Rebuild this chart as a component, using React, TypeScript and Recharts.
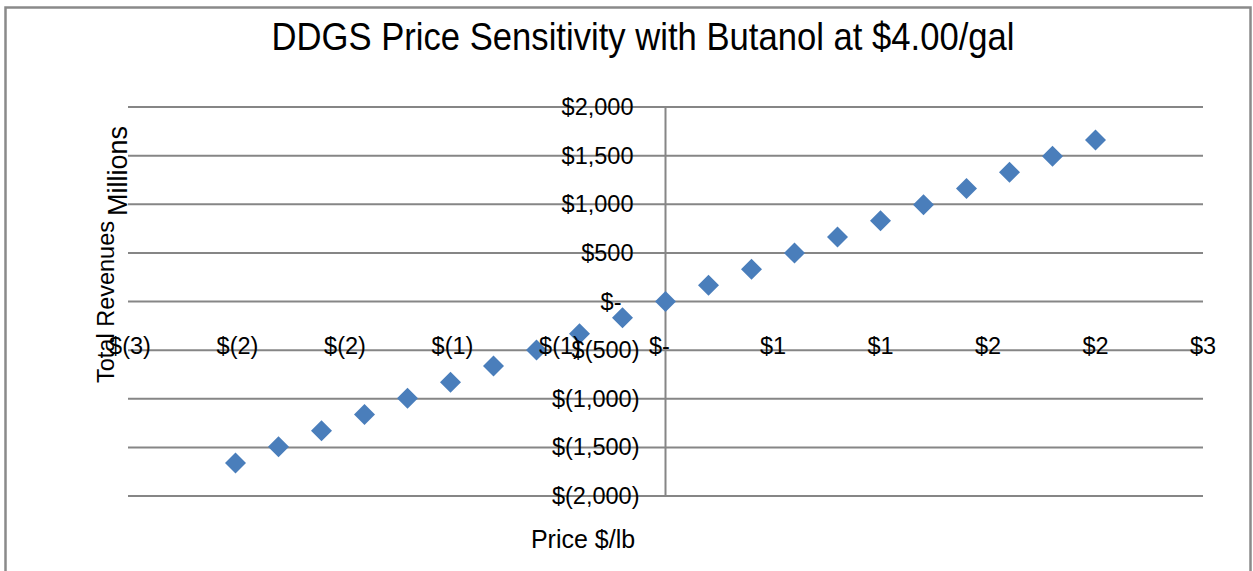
import React from 'react';
import { ScatterChart, Scatter, XAxis, YAxis, ReferenceLine, ReferenceDot } from 'recharts';

const W = 1253;
const H = 571;
const FONT = '"Liberation Sans", Arial, sans-serif';
const TITLE_FONT = '"Liberation Sans Narrow", "Liberation Sans", Arial, sans-serif';
const GRID = '#868686';
const MARKER = '#4a7ebb';

// Data
const prices = [-2.0, -1.8, -1.6, -1.4, -1.2, -1.0, -0.8, -0.6, -0.4, -0.2, 0, 0.2, 0.4, 0.6, 0.8, 1.0, 1.2, 1.4, 1.6, 1.8, 2.0];
const revenues = [-1660, -1494, -1328, -1162, -996, -830, -664, -498, -332, -166, 0, 166, 332, 498, 664, 830, 996, 1162, 1328, 1494, 1660];

const xTicks = [-2.5, -2, -1.5, -1, -0.5, 0, 0.5, 1, 1.5, 2, 2.5];
const xTickLabels = ['$(3)', '$(2)', '$(2)', '$(1)', '$(1)', '$-', '$1', '$1', '$2', '$2', '$3'];
const yTicks = [-2000, -1500, -1000, -500, 0, 500, 1000, 1500, 2000];
const yTickLabels = ['$(2,000)', '$(1,500)', '$(1,000)', '$(500)', '$-', '$500', '$1,000', '$1,500', '$2,000'];

const data = prices.map((p, i) => ({ price: p, revenue: revenues[i] }));

function Diamond(props: any) {
  const { cx, cy } = props;
  const r = 10.5;
  return (
    <polygon
      points={`${cx},${cy - r} ${cx + r},${cy} ${cx},${cy + r} ${cx - r},${cy}`}
      fill={MARKER}
    />
  );
}

function padFor(label: string) {
  if (label === '$-') return 18;
  if (label.indexOf('(') >= 0) return 0;
  return 6;
}

function YLabel(props: any) {
  const { viewBox, text } = props;
  if (!viewBox) return null;
  return (
    <text
      x={viewBox.x - 26 - padFor(text)}
      y={viewBox.y}
      textAnchor="end"
      dominantBaseline="central"
      fontFamily={FONT}
      fontSize={23.5}
      fill="#000"
    >
      {text}
    </text>
  );
}

function XLabel(props: any) {
  const { viewBox, text } = props;
  if (!viewBox) return null;
  const shift = text === '$-' ? -6 : text.indexOf('(') >= 0 ? 2 : 0;
  return (
    <text
      x={viewBox.x + shift}
      y={viewBox.y + 52}
      textAnchor="middle"
      fontFamily={FONT}
      fontSize={23.5}
      fill="#000"
    >
      {text}
    </text>
  );
}

export default function App() {
  return (
    <div
      style={{
        position: 'fixed',
        left: 0,
        top: 0,
        width: W,
        height: H,
        overflow: 'hidden',
        background: '#fff',
      }}
    >
      <ScatterChart width={W} height={H} margin={{ top: 107, right: 50, bottom: 75, left: 128 }}>
        <XAxis type="number" dataKey="price" domain={[-2.5, 2.5]} ticks={xTicks} hide allowDataOverflow />
        <YAxis type="number" dataKey="revenue" domain={[-2000, 2000]} ticks={yTicks} hide allowDataOverflow />
        {yTicks.map((v) => (
          <ReferenceLine key={'g' + v} y={v} stroke={GRID} strokeWidth={2} />
        ))}
        <ReferenceLine x={0} stroke={GRID} strokeWidth={2} />
        <Scatter data={data} shape={Diamond} isAnimationActive={false} />
        {yTicks.map((v, i) => (
          <ReferenceDot
            key={'yl' + v}
            x={0}
            y={v}
            r={0}
            fill="none"
            stroke="none"
            label={<YLabel text={yTickLabels[i]} />}
          />
        ))}
        {xTicks.map((v, i) => (
          <ReferenceDot
            key={'xl' + v}
            x={v}
            y={0}
            r={0}
            fill="none"
            stroke="none"
            label={<XLabel text={xTickLabels[i]} />}
          />
        ))}
      </ScatterChart>
      <svg width={W} height={H} style={{ position: 'absolute', left: 0, top: 0, pointerEvents: 'none' }}>
        <path d="M5.5,600 L5.5,7.5 L1250.5,7.5 L1250.5,600" fill="none" stroke="#8a8a8a" strokeWidth={2.5} />
        <text
          x={643}
          y={50}
          textAnchor="middle"
          fontFamily={TITLE_FONT}
          fontSize={39}
          fill="#000"
          textLength={743}
          lengthAdjust="spacingAndGlyphs"
        >
          DDGS Price Sensitivity with Butanol at $4.00/gal
        </text>
        <text x={583} y={548} textAnchor="middle" fontFamily={FONT} fontSize={25} fill="#000">
          Price $/lb
        </text>
        <text
          transform="translate(114,302) rotate(-90)"
          textAnchor="middle"
          fontFamily={FONT}
          fontSize={23.5}
          fill="#000"
        >
          Total Revenues
        </text>
        <text
          transform="translate(127,171) rotate(-90)"
          textAnchor="middle"
          fontFamily={FONT}
          fontSize={27}
          fill="#000"
        >
          Millions
        </text>
      </svg>
    </div>
  );
}
